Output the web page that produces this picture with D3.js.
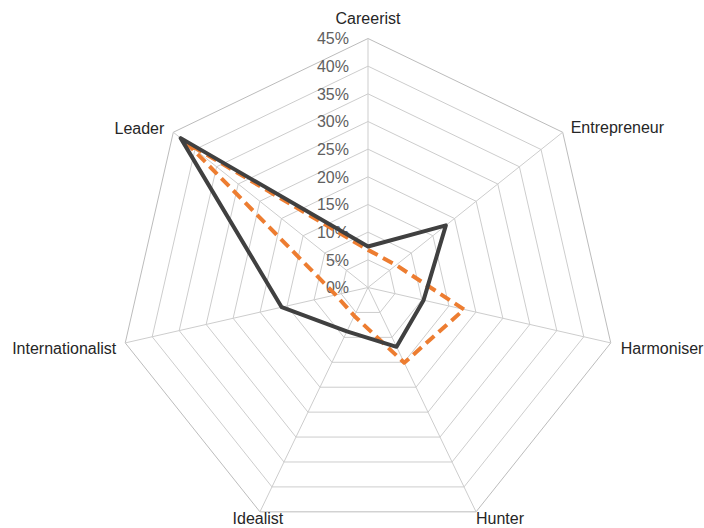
<!DOCTYPE html>
<html><head><meta charset="utf-8">
<script src="https://cdn.jsdelivr.net/npm/d3@7"></script>
<style>body{margin:0;background:#fff}svg{display:block}text{font-family:"Liberation Sans",Arial,sans-serif}</style>
</head><body>
<svg id="c" width="704" height="528"></svg>
<script>
const categories = ["Careerist","Entrepreneur","Harmoniser","Hunter","Idealist","Internationalist","Leader"];
const seriesDark = [7.4, 18, 10.3, 11.9, 8.8, 16, 43.3];
const seriesOrange = [6.8, 6.5, 17.8, 15.1, 5.7, 6, 42];
const tickValues = [0,5,10,15,20,25,30,35,40,45];

const svg = d3.select("#c");
const cx = 368, cy = 287.5, R = 249;
const r = d3.scaleLinear().domain([0,45]).range([0,R]);
const n = categories.length;
const ang = d3.scaleLinear().domain([0,n]).range([0,2*Math.PI]);
const pt = (i,v)=>[cx + r(v)*Math.sin(ang(i)), cy - r(v)*Math.cos(ang(i))];

const g = svg.append("g");
tickValues.slice(1).forEach(t=>{
  g.append("polygon")
   .attr("points", d3.range(n).map(i=>pt(i,t).join(",")).join(" "))
   .attr("fill","none")
   .attr("stroke", t===45 ? "#bcbcbc" : "#cdcdcd")
   .attr("stroke-width",1);
});
d3.range(n).forEach(i=>{
  const p = pt(i,45);
  g.append("line").attr("x1",cx).attr("y1",cy).attr("x2",p[0]).attr("y2",p[1])
   .attr("stroke", "#cdcdcd").attr("stroke-width",1);
});
tickValues.forEach(t=>{
  g.append("text").attr("x",cx-19).attr("y",cy - r(t)).attr("dy","0.36em")
   .attr("text-anchor","end").attr("font-size",16).attr("fill","#606060")
   .text(t+"%");
});
const line = d3.line().curve(d3.curveLinearClosed);
svg.append("path").attr("d", line(seriesOrange.map((v,i)=>pt(i,v))))
  .attr("fill","none").attr("stroke","#ED7D31").attr("stroke-width",4)
  .attr("stroke-dasharray","11,6").attr("stroke-linejoin","round");
svg.append("path").attr("d", line(seriesDark.map((v,i)=>pt(i,v))))
  .attr("fill","none").attr("stroke","#404040").attr("stroke-width",4)
  .attr("stroke-linejoin","round");

const labOff = [[0,-20,"middle"],[8,-5,"start"],[10,5,"start"],[24,6,"middle"],[-2,6,"middle"],[-9,5,"end"],[-9,-4,"end"]];
categories.forEach((c,i)=>{
  const p = pt(i,45);
  svg.append("text").attr("x",p[0]+labOff[i][0]).attr("y",p[1]+labOff[i][1]).attr("dy","0.36em")
   .attr("text-anchor",labOff[i][2]).attr("font-size",16).attr("fill","#262626").text(c);
});
</script>
</body></html>
